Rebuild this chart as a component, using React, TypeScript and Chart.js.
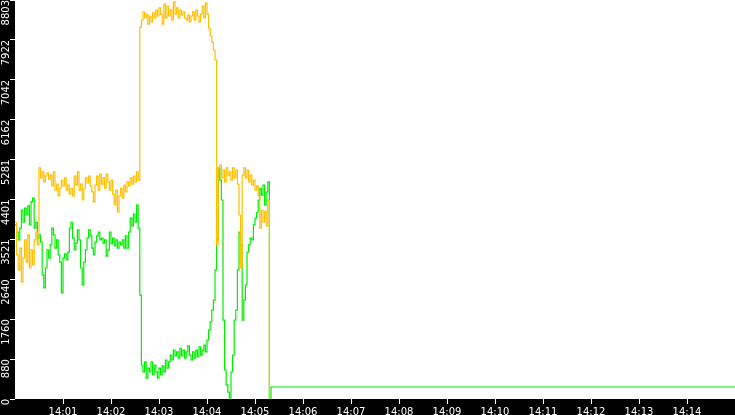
import React, { useEffect, useRef } from 'react';
import { Chart, registerables } from 'chart.js';

Chart.register(...registerables);

// ---- data ----
const yMax = 8803;
const yTickLabels = ['0', '880', '1760', '2640', '3521', '4401', '5281', '6162', '7042', '7922', '8803'];
const xTickSeconds = [60, 120, 180, 240, 300, 360, 420, 480, 540, 600, 660, 720, 780, 840];
const xTickLabels = ['14:01', '14:02', '14:03', '14:04', '14:05', '14:06', '14:07', '14:08', '14:09', '14:10', '14:11', '14:12', '14:13', '14:14'];
const xMaxSeconds = 900; // 14:00:00 .. 14:15:00
const sampleStepSeconds = 2;

const greenValues = [
  3840, 3680, 3510, 3770, 4170, 3900, 4210, 4060, 4260, 3840,
  4350, 4430, 3770, 3900, 3550, 3620, 3460, 2740, 2450, 2890,
  3290, 3110, 3400, 3770, 3620, 3330, 3510, 3180, 3020, 2340,
  3110, 3200, 3070, 3240, 3770, 3900, 3550, 3290, 3440, 3730,
  3510, 2890, 2520, 3020, 3290, 3550, 3730, 3600, 3330, 3180,
  3460, 3600, 3680, 3510, 3550, 3440, 3510, 3150, 3290, 3680,
  3420, 3550, 3380, 3510, 3330, 3460, 3400, 3510, 3330, 3600,
  3330, 3680, 3990, 3820, 4080, 3900, 4280, 3770, 2290, 750,
  600, 820, 460, 680, 600, 820, 530, 750, 600, 460,
  680, 530, 730, 600, 860, 680, 820, 970, 860, 1080,
  950, 1040, 900, 1120, 950, 1080, 900, 1040, 1170, 970,
  860, 1040, 900, 1080, 930, 1150, 970, 1080, 1190, 1040,
  1300, 1520, 1700, 1960, 2180, 2850, 3510, 5100, 4830, 4390,
  1740, 640, 310, 150, 20, 600, 970, 1740, 1960, 2850,
  3680, 3400, 1740, 2180, 2520, 3240, 3400, 3550, 3510, 3840,
  3990, 4120, 4390, 4650, 4500, 4720, 4280, 4570, 4790, 20,
];

const yellowValues = [
  3900, 3180, 2850, 3330, 2580, 3110, 3510, 3020, 3620, 2890,
  3290, 2960, 3510, 3680, 3400, 5100, 4880, 5010, 4790, 4920,
  4990, 4850, 4940, 4700, 5010, 4610, 4740, 4480, 4650, 4830,
  4700, 4880, 4610, 4720, 4520, 4650, 4480, 4920, 4720, 5010,
  4610, 4740, 4390, 4650, 4880, 4770, 4920, 4700, 4570, 4350,
  4720, 4920, 4610, 4960, 4740, 4880, 4650, 4960, 4790, 4610,
  4830, 4520, 4280, 4610, 4120, 4480, 4650, 4430, 4720, 4570,
  4790, 4700, 4880, 4740, 4920, 4790, 5010, 4830, 8200, 8360,
  8540, 8410, 8490, 8270, 8450, 8320, 8520, 8410, 8580, 8450,
  8630, 8490, 8270, 8710, 8410, 8670, 8450, 8580, 8360, 8760,
  8490, 8630, 8410, 8580, 8470, 8540, 8410, 8360, 8470, 8320,
  8450, 8540, 8360, 8580, 8450, 8320, 8490, 8670, 8410, 8740,
  8490, 8180, 8010, 7880, 7700, 7480, 3400, 5100, 5160, 4880,
  5050, 4790, 5100, 4920, 5010, 4830, 5100, 4880, 5050, 4740,
  4060, 2890, 4940, 5100, 4880, 5050, 4790, 4940, 4720, 4830,
  4610, 4700, 4480, 3770, 4170, 3900, 4140, 3820, 4390, 0,
];

const greenTailSeconds = [320, 900];
const greenTailValues = [265, 265];

const YELLOW = '#FFC000';
const GREEN = '#00EE00';

const bgPlugin = {
  id: 'bgBands',
  beforeDraw(chart: any) {
    const { ctx, chartArea, width, height } = chart;
    ctx.save();
    ctx.fillStyle = '#000000';
    ctx.fillRect(0, 0, width, height);
    ctx.fillStyle = '#ffffff';
    ctx.fillRect(chartArea.left, chartArea.top, chartArea.right - chartArea.left, chartArea.bottom - chartArea.top);
    ctx.restore();
  },
};

export default function App() {
  const ref = useRef<HTMLCanvasElement | null>(null);

  useEffect(() => {
    if (!ref.current) return;
    const green = greenValues.map((v, i) => ({ x: i * sampleStepSeconds, y: v }))
      .concat(greenTailSeconds.map((s, i) => ({ x: s, y: greenTailValues[i] })));
    const yellow = yellowValues.map((v, i) => ({ x: i * sampleStepSeconds, y: v }));

    const font = { family: 'DejaVu Sans', size: 10 };
    const chart = new Chart(ref.current, {
      type: 'line',
      data: {
        datasets: [
          { data: yellow, borderColor: YELLOW, borderWidth: 1.2, pointRadius: 0, stepped: true, fill: false, order: 0 },
          { data: green, borderColor: GREEN, borderWidth: 1.2, pointRadius: 0, stepped: true, fill: false, order: 1 },
        ],
      },
      options: {
        animation: false,
        responsive: false,
        devicePixelRatio: 1,
        layout: { padding: 0 },
        plugins: { legend: { display: false }, tooltip: { enabled: false }, title: { display: false } },
        scales: {
          x: {
            type: 'linear',
            min: 0,
            max: xMaxSeconds,
            afterBuildTicks: (s: any) => { s.ticks = xTickSeconds.map((v) => ({ value: v })); },
            afterFit: (s: any) => { s.height = 16; s.paddingLeft = 0; s.paddingRight = 0; },
            ticks: {
              color: '#ffffff',
              font,
              padding: 2,
              autoSkip: false,
              minRotation: 0,
              maxRotation: 0,
              callback: (_v: any, i: number) => xTickLabels[i],
            },
            grid: { display: true, drawOnChartArea: false, drawTicks: true, tickLength: 5, color: '#ffffff' },
            border: { display: false },
          },
          y: {
            type: 'linear',
            min: 0,
            max: yMax,
            afterBuildTicks: (s: any) => { s.ticks = yTickLabels.map((_l, k) => ({ value: (k * yMax) / 10 })); },
            afterFit: (s: any) => { s.width = 15; s.paddingTop = 0; s.paddingBottom = 0; },
            ticks: {
              color: '#ffffff',
              font,
              padding: 4,
              autoSkip: false,
              minRotation: 90,
              maxRotation: 90,
              callback: (_v: any, i: number) => yTickLabels[i],
            },
            grid: { display: true, drawOnChartArea: false, drawTicks: true, tickLength: 5, color: '#ffffff' },
            border: { display: false },
          },
        },
      } as any,
      plugins: [bgPlugin],
    });
    return () => chart.destroy();
  }, []);

  return (
    <div style={{ position: 'absolute', left: 0, top: 0, width: 735, height: 415 }}>
      <canvas ref={ref} width={735} height={415} style={{ display: 'block', width: 735, height: 415 }} />
    </div>
  );
}
